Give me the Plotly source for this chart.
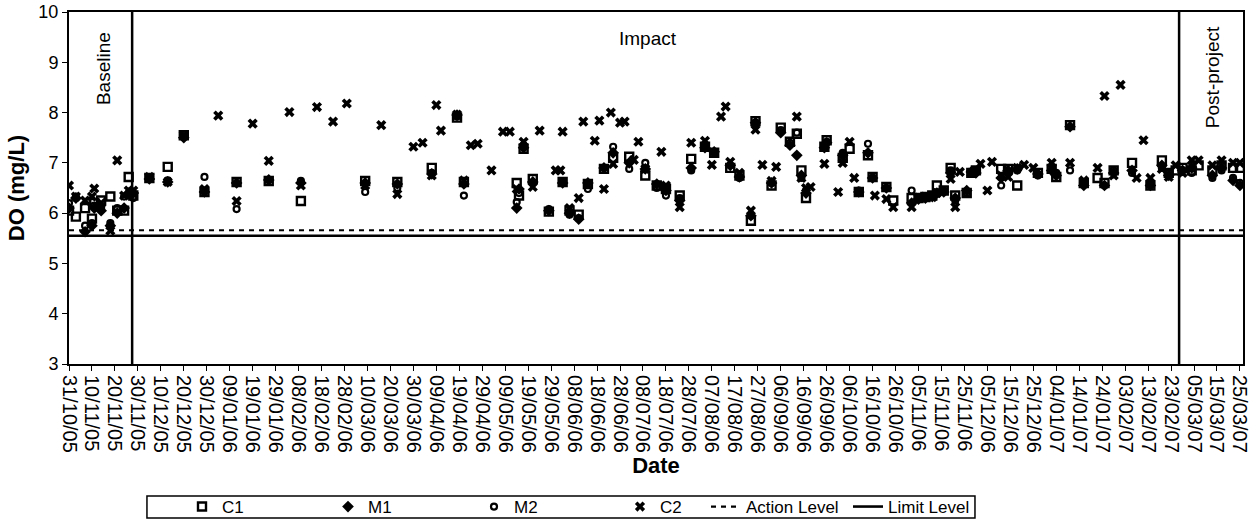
import plotly.graph_objects as go

# Sampling dates and dissolved oxygen readings (mg/L) at the four stations
dates = [
    "2005-10-31", "2005-11-03", "2005-11-07", "2005-11-10", "2005-11-11", "2005-11-14",
    "2005-11-18", "2005-11-21", "2005-11-24", "2005-11-26", "2005-11-28",
    "2005-12-05", "2005-12-13", "2005-12-20", "2005-12-29", "2006-01-04", "2006-01-12",
    "2006-01-19", "2006-01-26", "2006-02-04", "2006-02-09", "2006-02-16", "2006-02-23",
    "2006-03-01", "2006-03-09", "2006-03-16", "2006-03-23", "2006-03-30", "2006-04-03",
    "2006-04-07", "2006-04-09", "2006-04-11", "2006-04-18", "2006-04-21", "2006-04-24",
    "2006-04-27", "2006-05-03", "2006-05-08", "2006-05-11", "2006-05-14", "2006-05-15",
    "2006-05-17", "2006-05-21", "2006-05-24", "2006-05-28", "2006-05-31", "2006-06-02",
    "2006-06-03", "2006-06-06", "2006-06-10", "2006-06-12", "2006-06-14", "2006-06-17",
    "2006-06-19", "2006-06-21", "2006-06-24", "2006-06-25", "2006-06-28", "2006-06-30",
    "2006-07-02", "2006-07-04", "2006-07-06", "2006-07-09", "2006-07-14", "2006-07-16",
    "2006-07-18", "2006-07-24", "2006-07-29", "2006-08-04", "2006-08-07", "2006-08-08",
    "2006-08-11", "2006-08-13", "2006-08-15", "2006-08-19", "2006-08-24", "2006-08-26",
    "2006-08-29", "2006-09-02", "2006-09-04", "2006-09-06", "2006-09-10", "2006-09-13",
    "2006-09-15", "2006-09-17", "2006-09-19", "2006-09-25", "2006-09-26", "2006-10-01",
    "2006-10-03", "2006-10-06", "2006-10-08", "2006-10-10", "2006-10-14", "2006-10-16",
    "2006-10-17", "2006-10-22", "2006-10-25", "2006-11-02", "2006-11-05", "2006-11-08",
    "2006-11-11", "2006-11-13", "2006-11-16", "2006-11-19", "2006-11-21", "2006-11-23",
    "2006-11-26", "2006-11-28", "2006-11-30", "2006-12-02", "2006-12-05", "2006-12-07",
    "2006-12-11", "2006-12-14", "2006-12-18", "2006-12-21", "2006-12-25", "2006-12-27",
    "2007-01-02", "2007-01-04", "2007-01-10", "2007-01-16", "2007-01-22", "2007-01-25",
    "2007-01-29", "2007-02-01", "2007-02-06", "2007-02-08", "2007-02-11", "2007-02-14",
    "2007-02-19", "2007-02-22", "2007-02-25", "2007-02-28", "2007-03-04", "2007-03-07",
    "2007-03-13", "2007-03-17", "2007-03-22", "2007-03-25",
]

c1 = [
    6.05, 5.93, 6.10, 5.89, 6.20, 6.25, 6.33, 6.05, 6.05, 6.72, 6.35,
    6.70, 6.92, 7.55, 6.42, None, 6.62, None, 6.64, None, 6.24, None, None,
    None, 6.64, None, 6.62, None, None, 6.90, None, None, 7.90, 6.62, None,
    None, None, None, None, 6.60, 6.35, 7.28, 6.68, None, 6.03, None, None,
    6.62, 6.05, 5.97, None, 6.58, None, None, 6.88, None, 7.10, None, None,
    7.12, None, None, 6.75, 6.55, None, 6.48, 6.35, 7.08, 7.32, None, 7.20,
    None, None, 6.90, 6.75, 5.85, 7.83, None, 6.55, None, 7.70, 7.42, 7.58,
    6.85, 6.30, None, 7.32, 7.45, None, 7.10, 7.28, None, 6.42, 7.15, 6.72,
    None, 6.52, 6.25, 6.30, 6.30, 6.32, 6.35, 6.55, 6.45, 6.90, 6.35, None,
    6.40, 6.80, 6.85, None, None, None, 6.88, 6.88, 6.55, None, None, 6.80,
    6.88, 6.72, 7.75, 6.60, 6.70, 6.60, 6.85, None, 7.00, None, None, 6.55,
    7.05, 6.80, 6.85, 6.90, 6.85, 6.95, 6.85, 6.95, 6.90, 6.90,
]

m1 = [
    6.10, 6.30, 5.63, 5.75, 6.10, 6.05, 5.75, 6.00, 6.10, 6.40, 6.40,
    6.68, 6.62, 7.50, 6.42, None, 6.60, None, 6.66, None, 6.60, None, None,
    None, 6.60, None, 6.58, None, None, 6.78, None, None, 7.95, 6.58, None,
    None, None, None, None, 6.10, 6.48, 7.30, 6.62, None, 6.05, None, None,
    6.60, 6.00, 5.88, None, 6.60, None, None, 6.90, None, 7.20, None, None,
    7.00, None, None, 6.88, 6.58, None, 6.45, 6.25, 6.90, 7.30, None, 7.22,
    None, None, 6.95, 6.72, 5.95, 7.80, None, 6.60, None, 7.60, 7.35, 7.15,
    6.75, 6.40, None, 7.30, 7.40, None, 7.15, None, None, 6.42, 7.20, 6.70,
    None, 6.50, None, 6.20, 6.28, 6.30, 6.33, 6.40, 6.42, 6.80, 6.30, None,
    6.45, 6.82, 6.80, None, None, None, 6.70, 6.85, 6.88, None, None, 6.78,
    6.85, 6.75, 7.72, 6.55, None, 6.55, 6.80, None, 6.85, None, None, 6.55,
    6.95, 6.75, None, 6.85, 6.90, None, 6.75, 6.90, 6.65, 6.55,
]

m2 = [
    6.20, 6.33, 5.75, 5.80, 6.15, 6.10, 5.80, 6.10, 6.33, 6.40, 6.30,
    6.70, 6.65, 7.52, 6.72, None, 6.08, None, 6.66, None, 6.64, None, None,
    None, 6.42, None, 6.50, None, None, 6.80, None, None, 7.92, 6.35, None,
    None, None, None, None, 6.22, 6.40, 7.35, 6.60, None, 6.08, None, None,
    6.62, 5.97, 5.90, None, 6.48, None, None, 6.90, None, 7.32, None, None,
    6.88, None, None, 7.00, 6.50, None, 6.35, 6.30, 6.85, 7.35, None, 7.20,
    None, None, 6.95, 6.70, 5.95, 7.80, None, 6.60, None, 7.65, 7.40, 7.60,
    6.70, 6.45, None, 7.35, 7.42, None, 7.20, None, None, 6.45, 7.38, 6.70,
    None, 6.50, None, 6.45, 6.32, 6.30, 6.35, 6.38, 6.45, 6.85, 6.25, None,
    6.40, 6.80, 6.85, None, None, None, 6.55, 6.80, 6.85, None, None, 6.75,
    6.85, 6.80, 6.85, 6.60, None, 6.55, 6.85, None, 6.80, None, None, 6.60,
    6.90, 6.80, None, 6.85, 6.80, None, 6.70, 6.85, 6.70, 6.60,
]

c2 = [
    6.55, 6.33, 6.25, 6.33, 6.49, 6.20, 5.65, 7.05, 6.35, 6.45, 6.45,
    6.72, 6.62, 7.55, 6.48, 7.94, 6.24, 7.78, 7.04, 8.01, 6.55, 8.11, 7.82,
    8.18, 6.55, 7.75, 6.38, 7.32, 7.40, 6.75, 8.15, 7.64, 7.96, 6.65, 7.35,
    7.38, 6.85, 7.62, 7.62, 6.48, None, 7.42, 6.52, 7.64, None, 6.85, 6.85,
    7.62, 6.10, 6.30, 7.82, None, 7.44, 7.84, 6.48, 8.00, 6.98, 7.80, 7.82,
    None, 7.06, 7.42, 6.88, None, 7.22, 6.55, 6.12, 7.40, 7.44, 6.96, None,
    7.92, 8.12, 7.02, 6.80, 6.05, 7.66, 6.96, 6.64, 6.92, None, None, 7.92,
    6.70, 6.50, 6.52, 6.98, None, 6.42, 7.00, 7.42, 6.70, 6.42, None, None,
    6.35, 6.28, 6.12, 6.12, 6.30, 6.33, 6.32, 6.40, None, 6.68, 6.12, 6.82,
    None, 6.80, None, 6.98, 6.45, 7.02, 6.75, 6.72, 6.90, 6.96, 6.90, None,
    7.00, None, 7.00, 6.65, 6.90, 8.33, 6.75, 8.55, None, 6.70, 7.45, 6.70,
    6.88, 6.72, 6.95, 6.80, 7.05, 7.05, 6.95, 7.05, 7.00, 7.00,
]

# Compliance levels (mg/L) and project phase boundaries
action_level = 5.66
limit_level = 5.55
level_span = ["2005-10-31", "2007-03-26 08:00"]
phase_breaks = ["2005-11-27 12:00", "2007-02-26 12:00"]
phase_names = ["Baseline", "Impact", "Post-project"]

FONT = "Liberation Sans, Arial, sans-serif"
BLACK = "#000000"

fig = go.Figure()

fig.add_trace(go.Scatter(
    x=dates, y=c1, name="C1", mode="markers", legend="legend",
    marker=dict(symbol="square-open", size=8, color=BLACK, line=dict(width=2.4, color=BLACK)),
))
fig.add_trace(go.Scatter(
    x=dates, y=m1, name="M1", mode="markers", legend="legend",
    marker=dict(symbol="diamond", size=9, color=BLACK),
))
fig.add_trace(go.Scatter(
    x=dates, y=m2, name="M2", mode="markers", legend="legend",
    marker=dict(symbol="circle-open", size=6, color=BLACK, line=dict(width=2.2, color=BLACK)),
))
fig.add_trace(go.Scatter(
    x=dates, y=c2, name="C2", mode="markers", legend="legend",
    marker=dict(symbol="x", size=9, color=BLACK, line=dict(width=0)),
))
fig.add_trace(go.Scatter(
    x=level_span, y=[action_level, action_level], name="Action Level", mode="lines",
    legend="legend2", line=dict(color=BLACK, width=2.2, dash="5px,5px"),
))
fig.add_trace(go.Scatter(
    x=level_span, y=[limit_level, limit_level], name="Limit Level", mode="lines",
    legend="legend2", line=dict(color=BLACK, width=2.6),
))

# Phase separators
for xb in phase_breaks:
    fig.add_shape(type="line", xref="x", yref="paper", x0=xb, x1=xb, y0=-0.005, y1=1,
                  line=dict(color=BLACK, width=2.5))

# Phase labels
label_font = dict(size=19, color=BLACK, family=FONT)
fig.add_annotation(text=phase_names[0], xref="paper", yref="paper", x=0.029, y=0.838,
                   xanchor="center", yanchor="middle", textangle=-90, showarrow=False,
                   font=label_font)
fig.add_annotation(text=phase_names[1], xref="paper", yref="paper", x=0.493, y=0.926,
                   xanchor="center", yanchor="middle", showarrow=False, font=label_font)
fig.add_annotation(text=phase_names[2], xref="paper", yref="paper", x=0.9736, y=0.815,
                   xanchor="center", yanchor="middle", textangle=-90, showarrow=False,
                   font=label_font)

# Legend frame
fig.add_shape(type="rect", xref="paper", yref="paper", x0=0.0664, x1=0.7717, y0=-0.4375, y1=-0.375,
              line=dict(color=BLACK, width=1.5), fillcolor="rgba(0,0,0,0)")

legend_font = dict(size=17, family=FONT, color=BLACK)

fig.update_layout(
    width=1254, height=526,
    margin=dict(l=69, r=11, t=12, b=162),
    paper_bgcolor="white", plot_bgcolor="white",
    font=dict(family=FONT, color=BLACK),
    showlegend=True,
    legend=dict(
        orientation="h", xref="container", yref="container",
        x=182 / 1254, y=1 - 507 / 526, xanchor="left", yanchor="middle",
        entrywidth=101, entrywidthmode="pixels", itemwidth=30,
        font=legend_font, bgcolor="rgba(0,0,0,0)", borderwidth=0,
    ),
    legend2=dict(
        orientation="h", xref="container", yref="container",
        x=706 / 1254, y=1 - 507 / 526, xanchor="left", yanchor="middle",
        entrywidth=97, entrywidthmode="pixels", itemwidth=30,
        font=legend_font, bgcolor="rgba(0,0,0,0)", borderwidth=0,
    ),
    xaxis=dict(
        type="date", range=level_span, automargin=False,
        tick0="2005-10-31", dtick=10 * 24 * 3600 * 1000, tickformat="%d/%m/%y",
        tickangle=90, ticks="outside", ticklen=5, tickwidth=1, tickcolor=BLACK,
        tickfont=dict(size=20, family=FONT, color=BLACK),
        showline=True, linewidth=2, linecolor=BLACK, mirror=True,
        showgrid=False, zeroline=False,
        title=dict(text="<b>Date</b>", font=dict(size=22, family=FONT, color=BLACK), standoff=0),
    ),
    yaxis=dict(
        range=[3, 10], dtick=1, automargin=False,
        ticks="outside", ticklen=5, tickwidth=1, tickcolor=BLACK,
        tickfont=dict(size=18, family=FONT, color=BLACK),
        showline=True, linewidth=2, linecolor=BLACK, mirror=True,
        showgrid=False, zeroline=False,
        title=dict(text="<b>DO (mg/L)</b>", font=dict(size=22, family=FONT, color=BLACK), standoff=8),
    ),
)

fig.write_html("out.html")
